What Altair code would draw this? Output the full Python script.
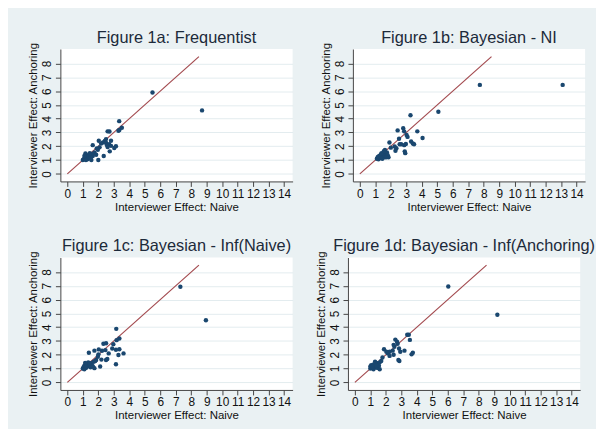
import altair as alt
import pandas as pd

FONT = "Liberation Sans"

titles = [
    "Figure 1a: Frequentist",
    "Figure 1b: Bayesian - NI",
    "Figure 1c: Bayesian - Inf(Naive)",
    "Figure 1d: Bayesian - Inf(Anchoring)",
]

naive_a = [5.5, 8.7, 3.35, 3.52, 3.36, 3.3, 2.6, 2.72, 2.5, 2.42, 2.03, 2.3, 1.64, 2.7, 2.82, 2.6, 3.03, 3.14,
           2.08, 1.97, 2.74, 2.35, 2.0, 1.17, 1.21, 1.43, 1.64, 1.75, 1.86, 1.0, 1.05, 1.1, 1.15, 1.25, 1.3, 1.35,
           1.4, 1.5, 1.55, 1.6, 1.48, 1.2, 1.9, 2.18, 2.5, 2.55, 1.1, 1.45, 2.82]
anch_a = [5.9, 4.6, 3.82, 3.34, 3.18, 3.12, 3.08, 3.07, 2.52, 2.38, 2.4, 2.27, 2.08, 2.15, 2.03, 1.95, 1.88, 2.0,
          1.92, 1.75, 1.63, 1.3, 1.0, 1.48, 1.32, 1.43, 1.3, 1.55, 1.38, 1.0, 1.05, 1.1, 1.2, 1.15, 1.05, 1.25,
          1.35, 1.2, 1.0, 1.45, 1.12, 1.0, 1.85, 2.2, 2.25, 2.1, 1.3, 1.5, 2.4]

naive_b = [13.1, 7.75, 5.07, 3.27, 4.05, 3.71, 2.44, 2.8, 2.86, 3.02, 3.08, 2.53, 1.91, 2.57, 2.67, 2.86, 2.97,
           3.31, 3.42, 2.25, 2.36, 2.0, 2.9, 2.93, 1.62, 2.3, 1.85, 1.1, 1.15, 1.2, 1.25, 1.3, 1.35, 1.4, 1.45,
           1.5, 1.55, 1.6, 1.65, 1.7, 1.75, 1.8, 1.3, 1.4, 1.55, 1.7, 1.2, 3.5]
anch_b = [6.45, 6.45, 4.5, 4.25, 2.6, 3.08, 3.15, 3.3, 3.08, 2.82, 2.68, 2.55, 2.27, 2.15, 2.15, 2.08, 2.16,
          2.34, 2.2, 1.98, 1.86, 1.9, 1.63, 1.5, 1.74, 1.67, 1.2, 1.1, 1.2, 1.05, 1.3, 1.15, 1.4, 1.25, 1.1,
          1.35, 1.5, 1.2, 1.3, 1.45, 1.55, 1.35, 1.2, 1.5, 1.65, 1.2, 1.25, 2.15]

naive_c = [7.3, 8.95, 3.16, 3.36, 3.18, 2.97, 2.33, 2.5, 3.14, 3.36, 3.63, 3.3, 2.67, 2.46, 2.24, 2.01, 1.75,
           1.39, 2.12, 3.14, 2.5, 2.58, 2.2, 1.75, 1.86, 1.97, 2.03, 1.0, 1.05, 1.1, 1.1, 1.2, 1.25, 1.3, 1.35,
           1.45, 1.5, 1.55, 1.6, 1.7, 1.65, 1.8, 1.4, 1.15, 2.9, 1.2]
anch_c = [6.93, 4.5, 3.88, 3.18, 3.06, 2.77, 2.8, 2.84, 2.36, 2.4, 2.1, 1.98, 2.1, 2.34, 2.29, 2.03, 2.3,
          2.15, 1.15, 1.31, 1.62, 1.7, 1.65, 1.03, 1.62, 1.86, 2.39, 1.0, 1.1, 0.95, 1.2, 1.05, 1.3, 1.15, 1.45,
          1.25, 1.1, 1.4, 1.2, 1.5, 1.15, 1.55, 1.35, 1.4, 2.45, 1.15]

naive_d = [6.03, 9.2, 3.38, 3.48, 3.55, 2.61, 2.72, 2.76, 2.5, 2.55, 3.2, 2.93, 3.74, 3.66, 2.81, 2.87, 2.13,
           2.24, 1.88, 2.03, 2.44, 2.5, 1.78, 2.24, 1.0, 1.0, 1.05, 1.1, 1.15, 1.2, 1.25, 1.3, 1.35, 1.4, 1.45,
           1.5, 1.55, 1.6, 1.6, 1.3, 1.7, 1.2, 1.4, 1.1, 2.85]
anch_d = [6.95, 4.9, 3.45, 3.45, 3.08, 3.1, 2.95, 2.8, 2.72, 2.58, 2.3, 2.22, 2.15, 2.03, 1.62, 1.55, 2.1,
          2.22, 2.4, 2.22, 2.3, 2.0, 1.8, 1.92, 1.0, 1.15, 1.25, 1.05, 1.2, 0.95, 1.1, 1.3, 1.15, 1.4, 1.05,
          1.25, 1.2, 1.45, 0.95, 1.5, 1.55, 1.3, 1.2, 1.15, 2.45]

line_x = [0, 8.5]
x_ticks = list(range(0, 15))
y_ticks = list(range(0, 9))

X_DOMAIN = [-0.45, 14.55]
Y_DOMAIN = [-0.55, 9.05]
NAVY = "#1a476f"
MAROON = "#a34a4f"


def panel(title, nx, ay):
    pts = pd.DataFrame({"naive": nx, "anch": ay})
    ln = pd.DataFrame({"naive": line_x, "anch": line_x})
    xs = alt.Scale(domain=X_DOMAIN, nice=False, zero=False)
    ys = alt.Scale(domain=Y_DOMAIN, nice=False, zero=False)
    xa = alt.Axis(values=x_ticks, title="Interviewer Effect: Naive", grid=False, labelFlush=False)
    ya = alt.Axis(values=y_ticks, title="Interviewer Effect: Anchoring", grid=True,
                  labelAngle=270, labelAlign="center", labelBaseline="bottom", labelPadding=2)
    line = alt.Chart(ln).mark_line(color=MAROON, strokeWidth=1.2, clip=True).encode(
        x=alt.X("naive:Q", scale=xs, axis=xa),
        y=alt.Y("anch:Q", scale=ys, axis=ya),
    )
    points = alt.Chart(pts).mark_circle(color=NAVY, size=20, opacity=1).encode(
        x=alt.X("naive:Q", scale=xs, axis=xa),
        y=alt.Y("anch:Q", scale=ys, axis=ya),
    )
    return alt.layer(line, points).properties(
        width=235, height=134,
        title=alt.TitleParams(title, anchor="middle", offset=-4),
    )


p1 = panel(titles[0], naive_a, anch_a)
p2 = panel(titles[1], naive_b, anch_b)
p3 = panel(titles[2], naive_c, anch_c)
p4 = panel(titles[3], naive_d, anch_d)

chart = alt.vconcat(
    alt.hconcat(p1, p2, spacing=27),
    alt.hconcat(p3, p4, spacing=22),
    spacing=25,
).properties(
    background="#eaf1f3",
    padding={"left": 19, "top": 19, "right": 0, "bottom": 5},
).configure_view(
    fill="white", strokeWidth=0
).configure_axis(
    labelFont=FONT, titleFont=FONT, labelFontSize=12, titleFontSize=11.6,
    labelColor="#111", titleColor="#111", titleFontWeight="normal",
    domainColor="#444", tickColor="#444", tickSize=5, domainWidth=1,
    gridColor="#e3ecef", gridWidth=1, titlePadding=2,
).configure_title(
    font=FONT, fontSize=16.5, fontWeight="normal", color="#1c2a3a",
)

chart.save("out.html", embed_options={"renderer": "svg", "actions": False})
